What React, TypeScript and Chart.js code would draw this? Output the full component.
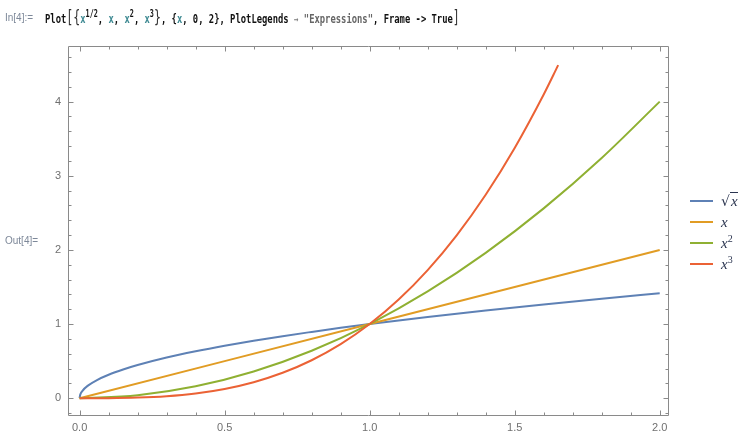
import React, { useEffect, useRef } from "react";
import { Chart, registerables } from "chart.js";

Chart.register(...registerables);

// Sampled curves
const sqrtX = [0, 0.002, 0.01, 0.03, 0.06, 0.1, 0.15, 0.2, 0.3, 0.4, 0.5, 0.6, 0.7, 0.8, 0.9, 1.0, 1.2, 1.4, 1.6, 1.8, 2.0];
const sqrtY = [0, 0.045, 0.1, 0.173, 0.245, 0.316, 0.387, 0.447, 0.548, 0.632, 0.707, 0.775, 0.837, 0.894, 0.949, 1, 1.095, 1.183, 1.265, 1.342, 1.414];

const linX = [0, 0.5, 1, 1.5, 2];
const linY = [0, 0.5, 1, 1.5, 2];

const sqX = [0, 0.2, 0.4, 0.6, 0.8, 1.0, 1.2, 1.4, 1.6, 1.8, 2.0];
const sqY = [0, 0.04, 0.16, 0.36, 0.64, 1, 1.44, 1.96, 2.56, 3.24, 4];

const cubeX = [0, 0.1, 0.2, 0.3, 0.4, 0.5, 0.6, 0.7, 0.8, 0.9, 1.0, 1.1, 1.2, 1.3, 1.4, 1.5, 1.6, 1.65];
const cubeY = [0, 0.001, 0.008, 0.027, 0.064, 0.125, 0.216, 0.343, 0.512, 0.729, 1, 1.331, 1.728, 2.197, 2.744, 3.375, 4.096, 4.492];

// Axes
const xRange = [-0.04, 2.032];
const yRange = [-0.24, 4.75];
const xMajor = [0, 0.5, 1, 1.5, 2];
const xTickLabels = ["0.0", "0.5", "1.0", "1.5", "2.0"];
const xMinor = [0.1, 0.2, 0.3, 0.4, 0.6, 0.7, 0.8, 0.9, 1.1, 1.2, 1.3, 1.4, 1.6, 1.7, 1.8, 1.9];
const yMajor = [0, 1, 2, 3, 4];
const yTickLabels = ["0", "1", "2", "3", "4"];
const yMinor = [-0.2, 0.2, 0.4, 0.6, 0.8, 1.2, 1.4, 1.6, 1.8, 2.2, 2.4, 2.6, 2.8, 3.2, 3.4, 3.6, 3.8, 4.2, 4.4, 4.6];

const colors = ["#5E81B5", "#E19C24", "#8FB032", "#EB6235"];
const FRAME = "#8a8a8a";
const TICK_TEXT = "#707070";

const zip = (xs: number[], ys: number[]) => xs.map((x, i) => ({ x, y: ys[i] }));

const frameTicks = {
  id: "frameTicks",
  beforeDatasetsDraw(chart: any) {
    const { ctx, chartArea: a, scales } = chart;
    const xs = scales.x;
    const ys = scales.y;
    const L = Math.round(a.left) + 0.5;
    const R = Math.round(a.right) - 0.5;
    const T = Math.round(a.top) + 0.5;
    const B = Math.round(a.bottom) - 0.5;
    ctx.save();
    ctx.strokeStyle = FRAME;
    ctx.lineWidth = 1;
    ctx.beginPath();
    ctx.moveTo(L, T);
    ctx.lineTo(R, T);
    ctx.lineTo(R, B);
    ctx.lineTo(L, B);
    ctx.closePath();
    const xt = (v: number, len: number) => {
      const p = Math.round(xs.getPixelForValue(v)) + 0.5;
      ctx.moveTo(p, B);
      ctx.lineTo(p, B - len);
      ctx.moveTo(p, T);
      ctx.lineTo(p, T + len);
    };
    const yt = (v: number, len: number) => {
      const p = Math.round(ys.getPixelForValue(v)) + 0.5;
      ctx.moveTo(L, p);
      ctx.lineTo(L + len, p);
      ctx.moveTo(R, p);
      ctx.lineTo(R - len, p);
    };
    xMajor.forEach((v) => xt(v, 5));
    xMinor.forEach((v) => xt(v, 3));
    yMajor.forEach((v) => yt(v, 5));
    yMinor.forEach((v) => yt(v, 3));
    ctx.stroke();
    ctx.restore();
  },
};

const supStyle: React.CSSProperties = { fontStyle: "normal", fontSize: 10, position: "relative", top: -6 };

const legendItems: { key: string; node: React.ReactNode }[] = [
  {
    key: "sqrt",
    node: (
      <span>
        <span style={{ fontStyle: "normal", fontFamily: "'DejaVu Sans'", fontSize: 14 }}>√</span>
        <span style={{ borderTop: "1px solid #2b3550", paddingLeft: 1 }}>x</span>
      </span>
    ),
  },
  { key: "x", node: <span>x</span> },
  { key: "x2", node: <span>x<span style={supStyle}>2</span></span> },
  { key: "x3", node: <span>x<span style={supStyle}>3</span></span> },
];
const legendY = [201, 222, 243, 264];

export default function App() {
  const ref = useRef<HTMLCanvasElement | null>(null);

  useEffect(() => {
    if (!ref.current) return;
    const mk = (xs: number[], ys: number[], i: number) => ({
      data: zip(xs, ys),
      borderColor: colors[i],
      backgroundColor: colors[i],
      borderWidth: 2,
      pointRadius: 0,
      showLine: true,
      fill: false,
      cubicInterpolationMode: "monotone" as const,
      order: 3 - i,
    });
    const tickFont = { family: "'Liberation Sans', Arial, sans-serif", size: 11 };
    const chart = new Chart(ref.current, {
      type: "scatter",
      data: {
        datasets: [mk(sqrtX, sqrtY, 0), mk(linX, linY, 1), mk(sqX, sqY, 2), mk(cubeX, cubeY, 3)],
      },
      options: {
        responsive: false,
        animation: false,
        layout: { padding: { left: 0, top: 46, right: 75, bottom: 0 } },
        plugins: { legend: { display: false }, tooltip: { enabled: false } },
        scales: {
          x: {
            type: "linear",
            min: xRange[0],
            max: xRange[1],
            grid: { display: false, drawTicks: false },
            border: { display: false },
            afterBuildTicks: (s: any) => {
              s.ticks = xMajor.map((v) => ({ value: v }));
            },
            afterFit: (s: any) => {
              s.height = 18;
            },
            ticks: {
              autoSkip: false,
              maxRotation: 0,
              padding: 5,
              color: TICK_TEXT,
              font: tickFont,
              callback: (_v: any, i: number) => xTickLabels[i],
            },
          },
          y: {
            type: "linear",
            min: yRange[0],
            max: yRange[1],
            grid: { display: false, drawTicks: false },
            border: { display: false },
            afterBuildTicks: (s: any) => {
              s.ticks = yMajor.map((v) => ({ value: v }));
            },
            afterFit: (s: any) => {
              s.width = 68;
            },
            ticks: {
              autoSkip: false,
              padding: 7,
              color: TICK_TEXT,
              font: tickFont,
              callback: (_v: any, i: number) => yTickLabels[i],
            },
          },
        },
      } as any,
      plugins: [frameTicks],
    });
    return () => chart.destroy();
  }, []);

  const sup = (t: string) => (
    <span style={{ fontSize: 10, position: "relative", top: -6 }}>{t}</span>
  );
  const v = (t: string) => <span style={{ color: "#3f8a93" }}>{t}</span>;
  const br = (t: string) => (
    <span style={{ fontWeight: "normal", fontSize: 17, color: "#333" }}>{t}</span>
  );
  const labelStyle: React.CSSProperties = {
    position: "absolute",
    fontFamily: "'Liberation Sans', Arial, sans-serif",
    fontSize: 10,
    lineHeight: "12px",
    color: "#7d8899",
    whiteSpace: "pre",
  };

  return (
    <div style={{ position: "fixed", left: 0, top: 0, width: 744, height: 434, background: "#fff", overflow: "hidden" }}>
      <canvas ref={ref} width={744} height={434} style={{ position: "absolute", left: 0, top: 0, display: "block" }} />
      <div style={{ ...labelStyle, left: 5, top: 12 }}>In[4]:=</div>
      <div
        style={{
          position: "absolute",
          left: 45,
          top: 9,
          fontFamily: "'DejaVu Sans Mono', monospace",
          fontWeight: "bold",
          fontSize: 13,
          lineHeight: "16px",
          color: "#111",
          whiteSpace: "pre",
          transform: "scaleX(0.68)",
          transformOrigin: "0 0",
        }}
      >
        Plot{br("[")}{br("{")}{v("x")}{sup("1/2")}, {v("x")}, {v("x")}{sup("2")}, {v("x")}{sup("3")}{br("}")}, {"{"}{v("x")}, 0, 2{"}"}, PlotLegends{" "}
        <span style={{ color: "#777", fontWeight: "normal", fontSize: 11 }}>→</span>{" "}
        <span style={{ color: "#666" }}>"Expressions"</span>, Frame -&gt; True{br("]")}
      </div>
      <div style={{ ...labelStyle, left: 5, top: 235 }}>Out[4]=</div>
      {legendItems.map((it, i) => (
        <div
          key={it.key}
          style={{
            position: "absolute",
            left: 690,
            top: legendY[i] - 9,
            height: 18,
            display: "flex",
            alignItems: "center",
            whiteSpace: "pre",
          }}
        >
          <span style={{ display: "inline-block", width: 23, height: 2, background: colors[i] }} />
          <span
            style={{
              marginLeft: 8,
              fontFamily: "'Liberation Serif', 'Times New Roman', serif",
              fontStyle: "italic",
              fontSize: 15,
              color: "#2b3550",
            }}
          >
            {it.node}
          </span>
        </div>
      ))}
    </div>
  );
}
